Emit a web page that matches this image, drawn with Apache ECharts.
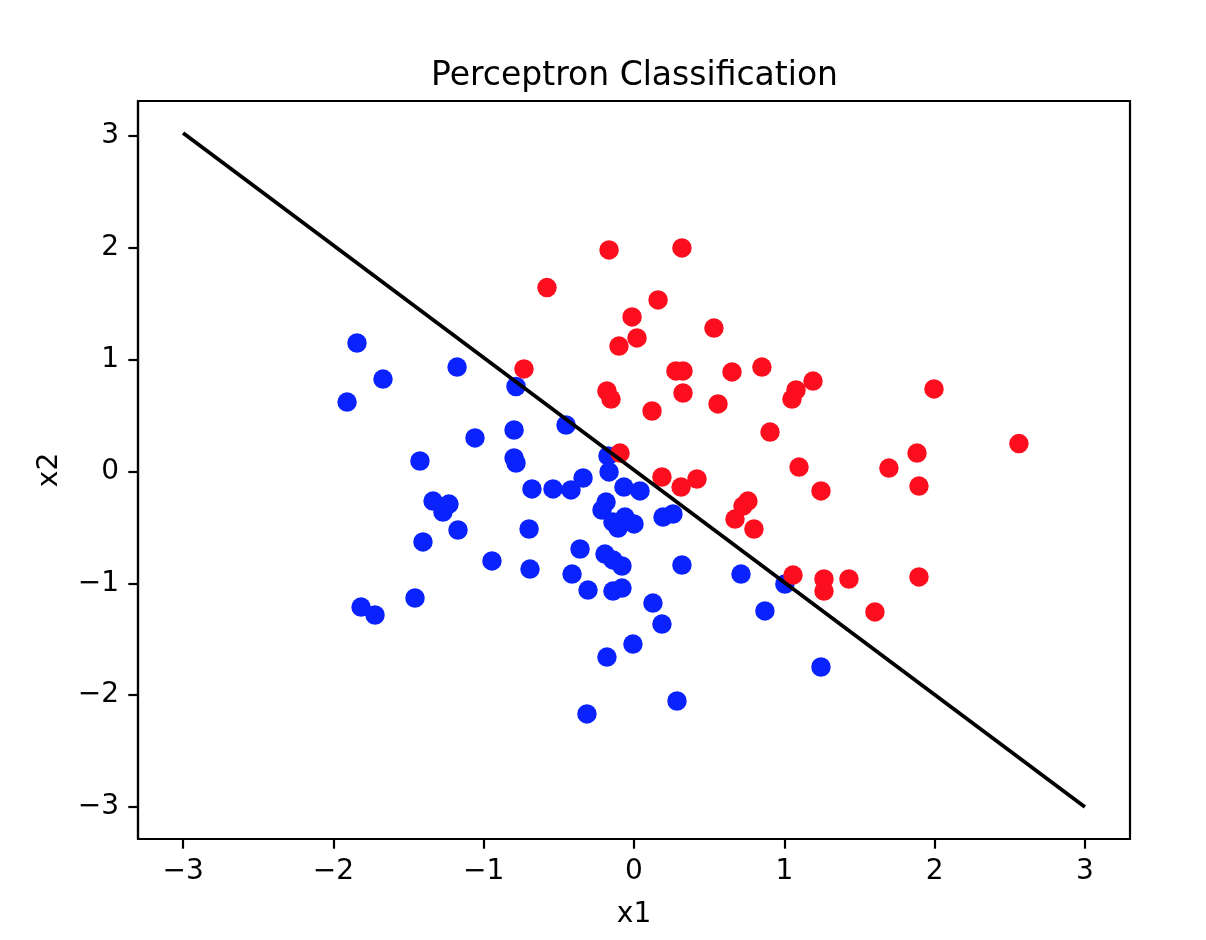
<!DOCTYPE html>
<html>
<head>
<meta charset="utf-8">
<script src="https://cdn.jsdelivr.net/npm/echarts@6/dist/echarts.min.js"></script>
<style>html,body{margin:0;padding:0;background:#fff;}#c{width:1206px;height:940px;}</style>
</head>
<body>
<div id="c"></div>
<script>
// Class 0 (blue) points: [x1, x2]
const bluePoints = [
  [-1.843, 1.149], [-1.909, 0.621], [-1.670, 0.827], [-1.177, 0.934], [-0.785, 0.760],
  [-0.452, 0.416], [-0.798, 0.371], [-1.058, 0.300], [-0.798, 0.121], [-0.785, 0.076],
  [-1.424, 0.094], [-0.173, 0.139], [-0.166, -0.004], [-0.339, -0.058], [-0.067, -0.139],
  [-0.679, -0.156], [-0.539, -0.156], [-0.419, -0.165], [0.040, -0.174], [-1.337, -0.264],
  [-1.231, -0.291], [-1.271, -0.362], [-1.171, -0.523], [-1.404, -0.630], [-0.698, -0.514],
  [-0.945, -0.800], [-0.692, -0.872], [-0.412, -0.917], [-1.457, -1.131], [-1.816, -1.212],
  [-1.723, -1.283], [-0.186, -0.273], [-0.213, -0.344], [-0.060, -0.407], [-0.140, -0.452],
  [-0.106, -0.505], [0.000, -0.469], [0.193, -0.407], [0.259, -0.380], [-0.359, -0.693],
  [-0.193, -0.738], [-0.140, -0.791], [-0.080, -0.845], [-0.306, -1.060], [-0.140, -1.069],
  [-0.080, -1.042], [0.319, -0.836], [0.712, -0.917], [1.004, -1.006], [0.126, -1.176],
  [0.186, -1.364], [-0.007, -1.543], [-0.180, -1.659], [0.871, -1.247], [0.286, -2.052],
  [-0.313, -2.168], [1.244, -1.748]
];
// Class 1 (red) points: [x1, x2]
const redPoints = [
  [-0.166, 1.981], [0.319, 1.999], [-0.579, 1.645], [0.160, 1.534], [-0.013, 1.382],
  [0.532, 1.283], [0.020, 1.194], [-0.100, 1.122], [-0.732, 0.917], [0.279, 0.899],
  [0.326, 0.899], [0.652, 0.890], [0.851, 0.934], [-0.180, 0.720], [-0.153, 0.648],
  [0.326, 0.702], [0.559, 0.604], [0.120, 0.541], [1.078, 0.729], [1.051, 0.648],
  [1.191, 0.809], [1.996, 0.738], [0.905, 0.353], [-0.093, 0.165], [0.186, -0.049],
  [0.419, -0.067], [0.313, -0.139], [1.098, 0.040], [1.696, 0.031], [1.883, 0.165],
  [2.561, 0.250], [1.896, -0.130], [1.244, -0.174], [0.758, -0.264], [0.725, -0.309],
  [0.672, -0.425], [0.798, -0.514], [1.058, -0.926], [1.264, -0.961], [1.430, -0.961],
  [1.264, -1.069], [1.896, -0.943], [1.603, -1.256]
];
// Decision boundary end points
const boundaryX = [-3, 3];
const boundaryY = [3.027, -3.0];
// Tick values
const xTicks = [-3, -2, -1, 0, 1, 2, 3];
const yTicks = [-3, -2, -1, 0, 1, 2, 3];

const FONT = 'DejaVu Sans';
const fmt = v => (v < 0 ? '\u2212' + Math.abs(v) : String(v));

const chart = echarts.init(document.getElementById('c'), null, {renderer: 'canvas'});
chart.setOption({
  animation: false,
  backgroundColor: '#fff',
  title: {
    text: 'Perceptron Classification',
    left: 426,
    top: 55,
    textStyle: {fontFamily: FONT, fontSize: 33, fontWeight: 'normal', color: '#000'}
  },
  grid: {
    left: 138, right: 76, top: 101, bottom: 101,
    show: true, borderColor: '#000', borderWidth: 2.2, backgroundColor: 'transparent'
  },
  xAxis: {
    type: 'value', min: -3.3, max: 3.3,
    name: 'x1', nameLocation: 'middle', nameGap: 62,
    nameTextStyle: {fontFamily: FONT, fontSize: 28, color: '#000'},
    axisLine: {show: true, onZero: false, lineStyle: {color: '#000', width: 2.2}},
    axisTick: {show: true, inside: false, length: 9.7, customValues: xTicks, lineStyle: {color: '#000', width: 2.2}},
    axisLabel: {customValues: xTicks, formatter: fmt, margin: 19, fontFamily: FONT, fontSize: 28, color: '#000'},
    splitLine: {show: false}
  },
  yAxis: {
    type: 'value', min: -3.286, max: 3.313,
    name: 'x2', nameLocation: 'middle', nameGap: 74, nameRotate: 90,
    nameTextStyle: {fontFamily: FONT, fontSize: 28, color: '#000'},
    axisLine: {show: true, onZero: false, lineStyle: {color: '#000', width: 2.2}},
    axisTick: {show: true, inside: false, length: 9.7, customValues: yTicks, lineStyle: {color: '#000', width: 2.2}},
    axisLabel: {customValues: yTicks, formatter: fmt, margin: 19, fontFamily: FONT, fontSize: 28, color: '#000'},
    splitLine: {show: false}
  },
  series: [
    {
      type: 'scatter', data: bluePoints, symbol: 'circle', symbolSize: 19.5,
      itemStyle: {color: '#0a22fd', opacity: 1}, z: 2
    },
    {
      type: 'scatter', data: redPoints, symbol: 'circle', symbolSize: 19.5,
      itemStyle: {color: '#fd0e1e', opacity: 1}, z: 3
    },
    {
      type: 'line', data: boundaryX.map((x, i) => [x, boundaryY[i]]),
      showSymbol: false, symbol: 'none',
      lineStyle: {color: '#000', width: 3.8}, z: 4
    }
  ]
});
</script>
</body>
</html>
